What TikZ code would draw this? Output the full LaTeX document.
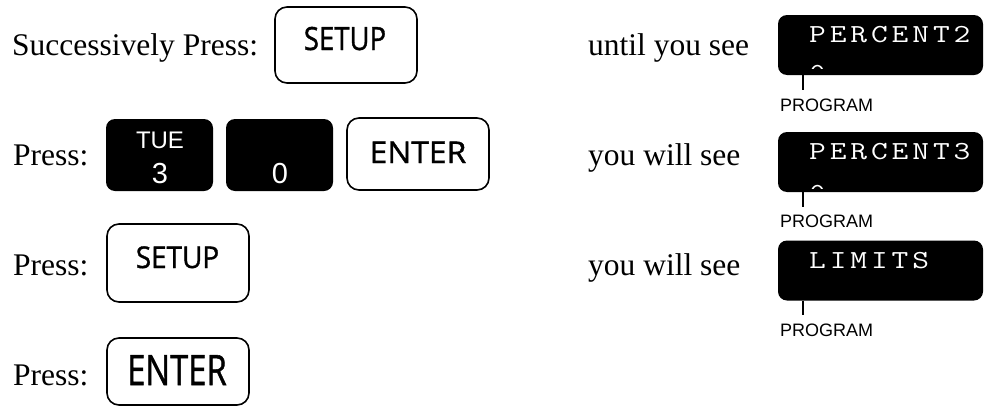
\documentclass[tikz,border=0pt]{standalone}
\usepackage{fontspec}
\usepackage{graphicx}
\setmainfont{Liberation Serif}
\newfontfamily\keyfamily[FakeBold=1.2]{Open Sans}
\newfontfamily\lblfamily{Liberation Sans}
\newfontfamily\dispfamily[LetterSpace=12]{Latin Modern Mono}
\newcommand\keytext[3]{\scalebox{#2}[1]{\fontsize{#1}{#1}\selectfont\keyfamily #3}}
\newcommand\disptext[1]{\scalebox{1.25}[1]{\dispfamily\fontsize{26}{32}\selectfont #1}}
\begin{document}
\begin{tikzpicture}[x=1pt,y=-1pt,
  serif/.style={anchor=base west, inner sep=0, font=\fontsize{31.5}{36}\selectfont},
  whitekey/.style={draw, line width=1.6pt, rounded corners=12pt, minimum width=142pt, inner sep=0},
  blackkey/.style={fill=black, rounded corners=9pt, minimum width=107pt, minimum height=72pt, inner sep=0},
  display/.style={fill=black, rounded corners=9pt, minimum width=205pt, minimum height=60pt, inner sep=0},
  keylbl/.style={anchor=base, inner sep=0},
  whitelbl/.style={anchor=base, inner sep=0, text=white, font=\lblfamily},
  disptxt/.style={anchor=base west, inner sep=0, text=white},
  proglbl/.style={anchor=base west, inner sep=0, font=\lblfamily\fontsize{18}{20}\selectfont},
  tickline/.style={line width=1.3pt}]
\useasboundingbox (0,0) rectangle (984,407);

% left column texts
\node[serif] (t1) at (12,55) {Successively Press:};
\node[serif] (t2) at (13,165) {Press:};
\node[serif] (t3) at (13,275) {Press:};
\node[serif] (t4) at (13,385) {Press:};

% row 1
\node[whitekey, minimum height=76pt] (k1) at (346,45) {};
\node[keylbl] (k1t) at (345,50) {\keytext{32}{0.86}{SETUP}};

% row 2
\node[blackkey] (k2a) at (159.5,155) {};
\node[whitelbl, font=\lblfamily\fontsize{24}{24}\selectfont] (k2at) at (160,148) {TUE};
\node[whitelbl, font=\lblfamily\fontsize{29}{29}\selectfont] (k2an) at (160,183) {3};
\node[blackkey] (k2b) at (279.5,155) {};
\node[whitelbl, font=\lblfamily\fontsize{29}{29}\selectfont] (k2bn) at (280,183) {0};
\node[whitekey, minimum height=72pt] (k2c) at (418,154) {};
\node[keylbl] (k2ct) at (418,163) {\keytext{30}{1.06}{ENTER}};

% row 3
\node[whitekey, minimum height=78pt] (k3) at (178,263) {};
\node[keylbl] (k3t) at (177.5,268) {\keytext{30}{0.93}{SETUP}};

% row 4
\node[whitekey, minimum height=67pt] (k4) at (178,371.5) {};
\node[keylbl] (k4t) at (177,385) {\keytext{42}{0.78}{ENTER}};

% middle texts
\node[serif] (m1) at (588,55) {until you see};
\node[serif] (m2) at (588,165) {you will see};
\node[serif] (m3) at (588,275) {you will see};

% displays
\node[display] (d1) at (880.5,45) {};
\node[disptxt] (d1t) at (809,42) {\disptext{PERCENT2}};
\begin{scope}
  \clip (800,64) rectangle (840,68);
  \node[disptxt] (d1z) at (809,81) {\disptext{0}};
\end{scope}
\coordinate (c1) at (803,90);
\draw[tickline] (d1.south west -| c1) -- (c1);
\node[proglbl] (p1) at (780,111) {PROGRAM};

\node[display] (d2) at (880.5,162) {};
\node[disptxt] (d2t) at (809,159) {\disptext{PERCENT3}};
\begin{scope}
  \clip (800,184) rectangle (840,188);
  \node[disptxt] (d2z) at (809,201) {\disptext{0}};
\end{scope}
\coordinate (c2) at (803,207);
\draw[tickline] (d2.south west -| c2) -- (c2);
\node[proglbl] (p2) at (780,227) {PROGRAM};

\node[display] (d3) at (880.5,270.5) {};
\node[disptxt] (d3t) at (809,268) {\disptext{LIMITS}};
\coordinate (c3) at (803,315);
\draw[tickline] (d3.south west -| c3) -- (c3);
\node[proglbl] (p3) at (780,336) {PROGRAM};
\end{tikzpicture}
\end{document}
